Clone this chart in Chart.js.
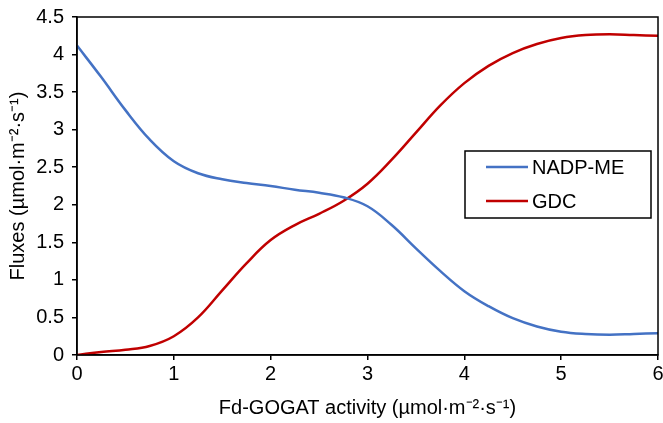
<!DOCTYPE html>
<html>
<head>
<meta charset="utf-8">
<script src="https://cdn.jsdelivr.net/npm/chart.js@4.4.1/dist/chart.umd.min.js"></script>
<style>
    html, body { margin: 0; padding: 0; background: #fff; }
    #wrap { width: 663px; height: 423px; }
</style>
</head>
<body>
<div id="wrap"><canvas id="chart"></canvas></div>
<script>
// Fd-GOGAT activity (x) and fluxes (y)
const activity = [0, 0.25, 0.5, 0.75, 1, 1.25, 1.5, 1.75, 2, 2.25, 2.5, 2.75, 3,
    3.25, 3.5, 3.75, 4, 4.25, 4.5, 4.75, 5, 5.25, 5.5, 5.75, 6];
const nadpMe = [4.12, 3.70, 3.26, 2.87, 2.58, 2.42, 2.34, 2.29, 2.25, 2.20, 2.16, 2.10, 1.98,
    1.73, 1.42, 1.12, 0.85, 0.65, 0.49, 0.38, 0.31, 0.28, 0.27, 0.28, 0.29];
const gdc = [0, 0.04, 0.07, 0.12, 0.25, 0.50, 0.86, 1.22, 1.53, 1.73, 1.88, 2.05, 2.28,
    2.60, 2.96, 3.32, 3.62, 3.85, 4.02, 4.14, 4.22, 4.26, 4.27, 4.26, 4.25];
const xTicks = [0, 1, 2, 3, 4, 5, 6];
const yTicks = [0, 0.5, 1, 1.5, 2, 2.5, 3, 3.5, 4, 4.5];

const font = "'Liberation Sans', Arial, sans-serif";

function toPoints(xs, ys) {
    return xs.map((x, i) => ({ x: x, y: ys[i] }));
}

// box round the plot area plus the legend inside it
const frameAndLegend = {
    id: 'frameAndLegend',
    afterDatasetsDraw(chart) {
        const ctx = chart.ctx;
        const a = chart.chartArea;
        ctx.save();
        ctx.strokeStyle = '#000';
        ctx.lineWidth = 1.5;
        ctx.strokeRect(a.left, a.top, a.right - a.left, a.bottom - a.top);

        const lx = 465, ly = 151, lw = 186, lh = 67;
        ctx.fillStyle = '#fff';
        ctx.fillRect(lx, ly, lw, lh);
        ctx.strokeRect(lx, ly, lw, lh);
        ctx.font = '20px ' + font;
        ctx.textBaseline = 'middle';
        chart.data.datasets.forEach((ds, i) => {
            const y = ly + 16 + i * 34;
            ctx.strokeStyle = ds.borderColor;
            ctx.lineWidth = 2.5;
            ctx.beginPath();
            ctx.moveTo(486, y);
            ctx.lineTo(528, y);
            ctx.stroke();
            ctx.fillStyle = '#000';
            ctx.fillText(ds.label, 532, y + 1);
        });
        ctx.restore();
    }
};

new Chart(document.getElementById('chart'), {
    type: 'line',
    data: {
        datasets: [{
            label: 'NADP-ME',
            data: toPoints(activity, nadpMe),
            borderColor: '#4472C4',
            borderWidth: 2.5,
            pointRadius: 0,
            tension: 0.4,
            fill: false
        }, {
            label: 'GDC',
            data: toPoints(activity, gdc),
            borderColor: '#C00000',
            borderWidth: 2.5,
            pointRadius: 0,
            tension: 0.4,
            fill: false
        }]
    },
    options: {
        responsive: true,
        maintainAspectRatio: false,
        animation: false,
        layout: { padding: { left: 6, top: 17, right: 5, bottom: 0 } },
        plugins: {
            legend: { display: false },
            tooltip: { enabled: false }
        },
        scales: {
            x: {
                type: 'linear',
                min: 0,
                max: 6,
                afterBuildTicks: (scale) => { scale.ticks = xTicks.map(v => ({ value: v })); },
                afterFit: (scale) => {
                    scale.height = 68;
                    scale.paddingLeft = 0;
                    scale.paddingRight = 0;
                },
                grid: { drawOnChartArea: false, drawTicks: true, tickLength: 5, color: '#000', lineWidth: 1.5 },
                border: { display: true, color: '#000', width: 1.5 },
                ticks: {
                    color: '#000', font: { family: font, size: 20 }, padding: 2, maxRotation: 0,
                    callback: (v) => String(v)
                },
                title: {
                    display: true,
                    text: 'Fd-GOGAT activity (µmol·m⁻²·s⁻¹)',
                    color: '#000',
                    font: { family: font, size: 20 },
                    padding: { top: 0, bottom: 3 }
                }
            },
            y: {
                type: 'linear',
                min: 0,
                max: 4.5,
                afterBuildTicks: (scale) => { scale.ticks = yTicks.map(v => ({ value: v })); },
                afterFit: (scale) => {
                    scale.width = 71;
                    scale.paddingTop = 0;
                    scale.paddingBottom = 0;
                },
                grid: { drawOnChartArea: false, drawTicks: true, tickLength: 5, color: '#000', lineWidth: 1.5 },
                border: { display: true, color: '#000', width: 1.5 },
                ticks: {
                    color: '#000', font: { family: font, size: 20 }, padding: 8,
                    callback: (v) => String(v)
                },
                title: {
                    display: true,
                    text: 'Fluxes (µmol·m⁻²·s⁻¹)',
                    color: '#000',
                    font: { family: font, size: 20 },
                    padding: { top: 0, bottom: 0 }
                }
            }
        }
    },
    plugins: [frameAndLegend]
});
</script>
</body>
</html>
